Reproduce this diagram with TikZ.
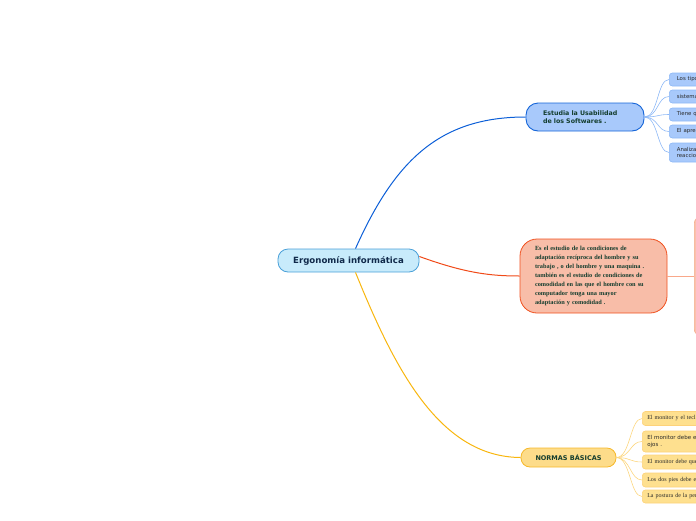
\documentclass[tikz,border=0pt]{standalone}
\usepackage{fontspec}
\usetikzlibrary{calc}
\setmainfont{Liberation Serif}
\newfontfamily\dejavu{DejaVu Sans}
\definecolor{cfill}{HTML}{C8EBFB}
\definecolor{cdraw}{HTML}{4AA0D8}
\definecolor{ctext}{HTML}{10294A}
\definecolor{tfill}{HTML}{A8C9FB}
\definecolor{tdraw}{HTML}{1565D8}
\definecolor{tchild}{HTML}{8DB8F6}
\definecolor{gtext}{HTML}{143D2E}
\definecolor{mfill}{HTML}{F8BDA8}
\definecolor{mdraw}{HTML}{F0501E}
\definecolor{bigfill}{HTML}{F9C2AC}
\definecolor{bigdraw}{HTML}{F7AC8E}
\definecolor{yfill}{HTML}{FDDC8A}
\definecolor{ydraw}{HTML}{F6B82A}
\definecolor{ychild}{HTML}{FDD27A}
\definecolor{ychfill}{HTML}{FEE08F}
\definecolor{lblue}{HTML}{0B5ED7}
\definecolor{lorange}{HTML}{F04A18}
\definecolor{lyellow}{HTML}{F8B60E}
\definecolor{lsalmon}{HTML}{F9A88A}
\definecolor{lyel2}{HTML}{FCD67F}
\definecolor{dtext}{HTML}{2A2A2A}
\begin{document}
\begin{tikzpicture}[x=1pt,y=-1pt,
  central/.style={draw=cdraw, line width=0.8pt, fill=cfill, rounded corners=10pt,
    minimum width=141pt, minimum height=23pt, inner sep=0pt,
    font=\dejavu\bfseries\fontsize{8.6}{10}\selectfont, text=ctext},
  topnode/.style={draw=tdraw, line width=0.9pt, fill=tfill, rounded corners=12pt,
    minimum height=28pt, inner xsep=17pt, inner ysep=0pt, text width=84pt, align=left,
    font=\dejavu\bfseries\fontsize{6.3}{7.6}\selectfont, text=gtext},
  bchild/.style={draw=tchild, line width=0.6pt, fill=tfill, rounded corners=3pt,
    anchor=west, minimum width=60pt, inner xsep=4.5pt, inner ysep=0pt, align=left,
    text width=45pt, font=\dejavu\fontsize{5.4}{6.8}\selectfont, text=dtext},
  midnode/.style={draw=mdraw, line width=0.8pt, fill=mfill, rounded corners=17pt,
    minimum height=74pt, inner xsep=15pt, inner ysep=0pt, text width=117pt, align=left,
    font=\bfseries\fontsize{6.3}{9}\selectfont, text=gtext},
  normnode/.style={draw=ydraw, line width=0.8pt, fill=yfill, rounded corners=9pt,
    minimum width=95pt, minimum height=19pt, inner sep=0pt,
    font=\dejavu\bfseries\fontsize{6.5}{8}\selectfont, text=gtext},
  ychildn/.style={draw=ychild, line width=0.6pt, fill=ychfill, rounded corners=3pt,
    anchor=west, minimum width=70pt, inner xsep=4.5pt, inner ysep=0pt, align=left,
    text width=60pt, font=\fontsize{6}{7}\selectfont, text=dtext},
  conn/.style={line width=1pt},
  thin/.style={line width=0.6pt}
]
\useasboundingbox (0,0) rectangle (696,520);
\clip (0,0) rectangle (696,520);

% central
\node[central] (c) at (348.5,260.5) {Ergonomía informática};

% top branch
\node[topnode] (t) at (585,117) {Estudia la Usabilidad\\de los Softwares .};
\node[bchild, minimum height=13pt] (t1) at (669,79.5) {Los tipos};
\node[bchild, minimum height=13pt] (t2) at (669,96.5) {sistemas};
\node[bchild, minimum height=13pt] (t3) at (669,114.5) {Tiene qu};
\node[bchild, minimum height=13pt] (t4) at (669,131.5) {El apren};
\node[bchild, minimum height=19pt] (t5) at (669,152.5) {Analiza\\reaccion};

% middle branch
\node[midnode] (m) at (593.5,276) {Es el estudio de la condiciones de\\
adaptación recíproca del hombre y su\\
trabajo , o del hombre y una maquina .\\
también es el estudio de condiciones de\\
comodidad en las que el hombre con su\\
computador tenga una mayor\\
adaptación y comodidad .};
\node[draw=bigdraw, line width=0.6pt, fill=bigfill, rounded corners=6pt, anchor=north west,
  minimum width=60pt, minimum height=118pt, inner sep=0pt] (big) at (694,217) {};

% bottom branch
\node[normnode] (b) at (568.5,457.5) {NORMAS BÁSICAS};
\node[ychildn, minimum height=14pt] (b1) at (642,418.5) {El monitor y el tecl};
\node[ychildn, minimum height=21pt, font=\dejavu\fontsize{5.5}{6.6}\selectfont] (b2) at (642,441.5) {El monitor debe e\\ojos .};
\node[ychildn, minimum height=14pt] (b3) at (642,462) {El monitor debe queda};
\node[ychildn, minimum height=14pt] (b4) at (642,480) {Los dos pies debe esta};
\node[ychildn, minimum height=13pt] (b5) at (642,496.5) {La postura de  la perso};

% main connectors
\draw[conn, lblue] ([xshift=7pt]c.north) .. controls (395,160) and (440,117) .. (t.west);
\draw[conn, lorange] ([yshift=4pt]c.east) .. controls (465,273) and (490,276) .. (m.west);
\draw[conn, lyellow] ([xshift=7pt]c.south) .. controls (395,370) and (440,457) .. (b.west);

% children connectors
\foreach \k in {t1,t2,t3,t4,t5}
  \draw[thin, tchild] (t.east) .. controls ($(t.east)+(14,0)$) and ($(\k.west)+(-12,0)$) .. (\k.west);
\draw[thin, lsalmon] (m.east) -- (big.west |- m.east);
\foreach \k in {b1,b2,b3,b4,b5}
  \draw[thin, lyel2] (b.east) .. controls ($(b.east)+(14,0)$) and ($(\k.west)+(-12,0)$) .. (\k.west);
\end{tikzpicture}
\end{document}
